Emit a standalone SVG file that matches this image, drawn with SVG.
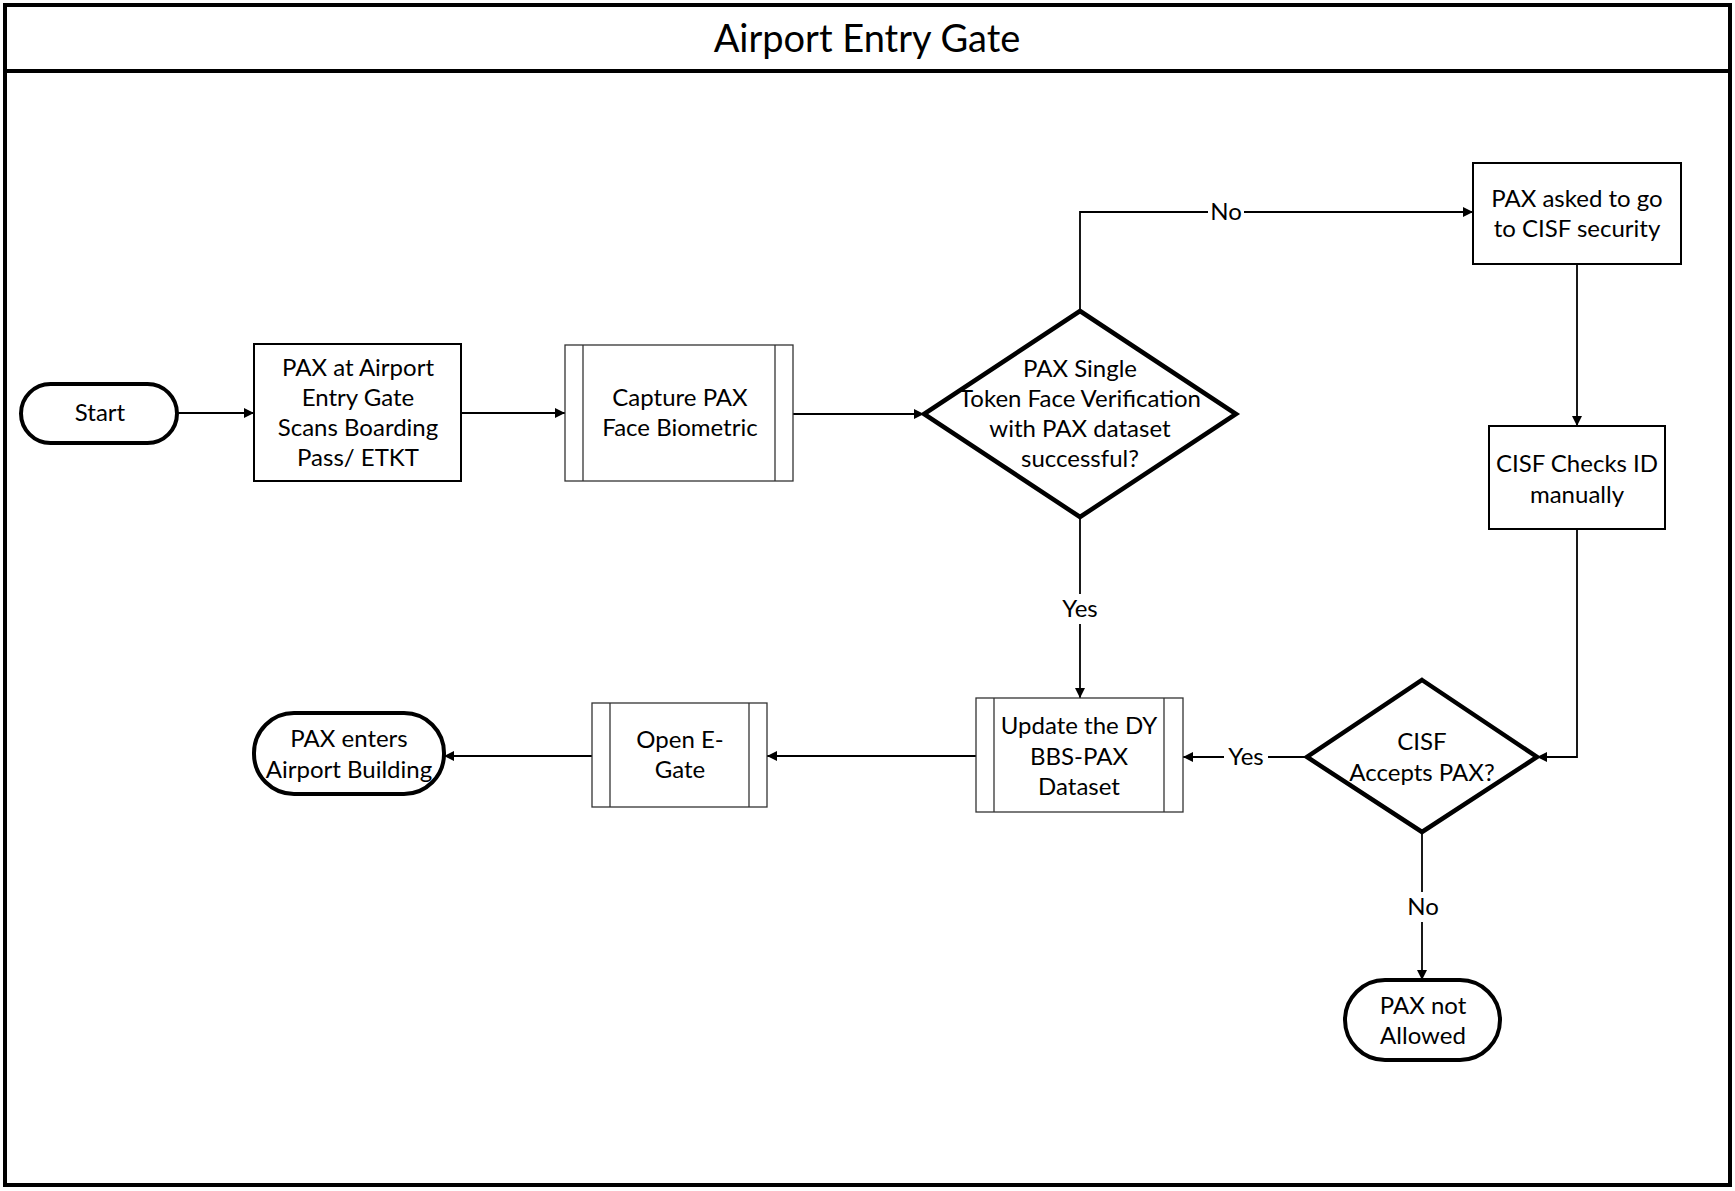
<svg xmlns="http://www.w3.org/2000/svg" width="1735" height="1191" viewBox="0 0 1735 1191">
  <defs>
    <marker id="arrow" viewBox="0 0 10 10" refX="10" refY="5" markerWidth="10" markerHeight="10" markerUnits="userSpaceOnUse" orient="auto">
      <path d="M0,0 L10,5 L0,10 z" fill="#000"/>
    </marker>
    <style>
      text { font-family: Lato, "Open Sans", "Liberation Sans", sans-serif; fill: #000; text-anchor: middle; }
      .lbl { font-size: 24px; }
      .title { font-size: 38px; }
      .terminal { fill: #fff; stroke: #000; stroke-width: 4; }
      .decision { fill: #fff; stroke: #000; stroke-width: 4.5; stroke-linejoin: miter; }
      .process { fill: #fff; stroke: #000; stroke-width: 2; }
      .subproc { fill: #fff; stroke: #333; stroke-width: 1.3; }
      .edge { fill: none; stroke: #000; stroke-width: 1.8; marker-end: url(#arrow); }
      .knock { fill: #fff; }
    </style>
  </defs>

  <rect width="1735" height="1191" fill="#fff"/>

  <!-- frame and title bar -->
  <g id="frame">
    <rect x="5" y="5" width="1725" height="1180" fill="none" stroke="#000" stroke-width="4"/>
    <line x1="5" y1="71" x2="1730" y2="71" stroke="#000" stroke-width="4"/>
    <text class="title" x="867" y="52">Airport Entry Gate</text>
  </g>

  <!-- connectors -->
  <g id="connectors">
    <line class="edge" x1="177" y1="413" x2="254" y2="413"/>
    <line class="edge" x1="461" y1="413" x2="565" y2="413"/>
    <line class="edge" x1="793" y1="414" x2="924" y2="414"/>
    <polyline class="edge" points="1080,311 1080,212 1473,212"/>
    <line class="edge" x1="1577" y1="264" x2="1577" y2="426"/>
    <polyline class="edge" points="1577,529 1577,757 1537,757"/>
    <line class="edge" x1="1080" y1="517" x2="1080" y2="698"/>
    <line class="edge" x1="1307" y1="757" x2="1183" y2="757"/>
    <line class="edge" x1="976" y1="756" x2="767" y2="756"/>
    <line class="edge" x1="592" y1="756" x2="444" y2="756"/>
    <line class="edge" x1="1422" y1="832" x2="1422" y2="980"/>

    <rect class="knock" x="1208" y="198" width="36" height="28"/>
    <text class="lbl" x="1226" y="220">No</text>
    <rect class="knock" x="1056" y="594" width="48" height="30"/>
    <text class="lbl" x="1080" y="617">Yes</text>
    <rect class="knock" x="1224" y="743" width="44" height="28"/>
    <text class="lbl" x="1246" y="765">Yes</text>
    <rect class="knock" x="1404" y="892" width="38" height="30"/>
    <text class="lbl" x="1423" y="915">No</text>
  </g>

  <g id="start">
    <rect class="terminal" x="21" y="384" width="156" height="59" rx="29.5"/>
    <text class="lbl" x="100" y="421">Start</text>
  </g>

  <g id="scan-pass">
    <rect class="process" x="254" y="344" width="207" height="137"/>
    <text class="lbl" x="358" y="376">PAX at Airport</text>
    <text class="lbl" x="358" y="406">Entry Gate</text>
    <text class="lbl" x="358" y="436">Scans Boarding</text>
    <text class="lbl" x="358" y="466">Pass/ ETKT</text>
  </g>

  <g id="capture-face">
    <rect class="subproc" x="565" y="345" width="228" height="136"/>
    <line class="subproc" x1="583" y1="345" x2="583" y2="481"/>
    <line class="subproc" x1="775" y1="345" x2="775" y2="481"/>
    <text class="lbl" x="680" y="406">Capture PAX</text>
    <text class="lbl" x="680" y="436">Face Biometric</text>
  </g>

  <g id="verify-decision">
    <polygon class="decision" points="1080,311 1236,414 1080,517 924,414"/>
    <text class="lbl" x="1080" y="377">PAX Single</text>
    <text class="lbl" x="1080" y="407">Token Face Verification</text>
    <text class="lbl" x="1080" y="437">with PAX dataset</text>
    <text class="lbl" x="1080" y="467">successful?</text>
  </g>

  <g id="go-to-cisf">
    <rect class="process" x="1473" y="163" width="208" height="101"/>
    <text class="lbl" x="1577" y="207">PAX asked to go</text>
    <text class="lbl" x="1577" y="237">to CISF security</text>
  </g>

  <g id="cisf-check">
    <rect class="process" x="1489" y="426" width="176" height="103"/>
    <text class="lbl" x="1577" y="472">CISF Checks ID</text>
    <text class="lbl" x="1577" y="503">manually</text>
  </g>

  <g id="cisf-decision">
    <polygon class="decision" points="1422,680 1537,757 1422,832 1307,757"/>
    <text class="lbl" x="1422" y="750">CISF</text>
    <text class="lbl" x="1422" y="781">Accepts PAX?</text>
  </g>

  <g id="update-dataset">
    <rect class="subproc" x="976" y="698" width="207" height="114"/>
    <line class="subproc" x1="994" y1="698" x2="994" y2="812"/>
    <line class="subproc" x1="1164" y1="698" x2="1164" y2="812"/>
    <text class="lbl" x="1079" y="734">Update the DY</text>
    <text class="lbl" x="1079" y="765">BBS-PAX</text>
    <text class="lbl" x="1079" y="795">Dataset</text>
  </g>

  <g id="open-gate">
    <rect class="subproc" x="592" y="703" width="175" height="104"/>
    <line class="subproc" x1="610" y1="703" x2="610" y2="807"/>
    <line class="subproc" x1="749" y1="703" x2="749" y2="807"/>
    <text class="lbl" x="680" y="748">Open E-</text>
    <text class="lbl" x="680" y="778">Gate</text>
  </g>

  <g id="enter-building">
    <rect class="terminal" x="254" y="713" width="190" height="81" rx="40"/>
    <text class="lbl" x="349" y="747">PAX enters</text>
    <text class="lbl" x="349" y="778">Airport Building</text>
  </g>

  <g id="not-allowed">
    <rect class="terminal" x="1345" y="980" width="155" height="80" rx="40"/>
    <text class="lbl" x="1423" y="1014">PAX not</text>
    <text class="lbl" x="1423" y="1044">Allowed</text>
  </g>
</svg>
